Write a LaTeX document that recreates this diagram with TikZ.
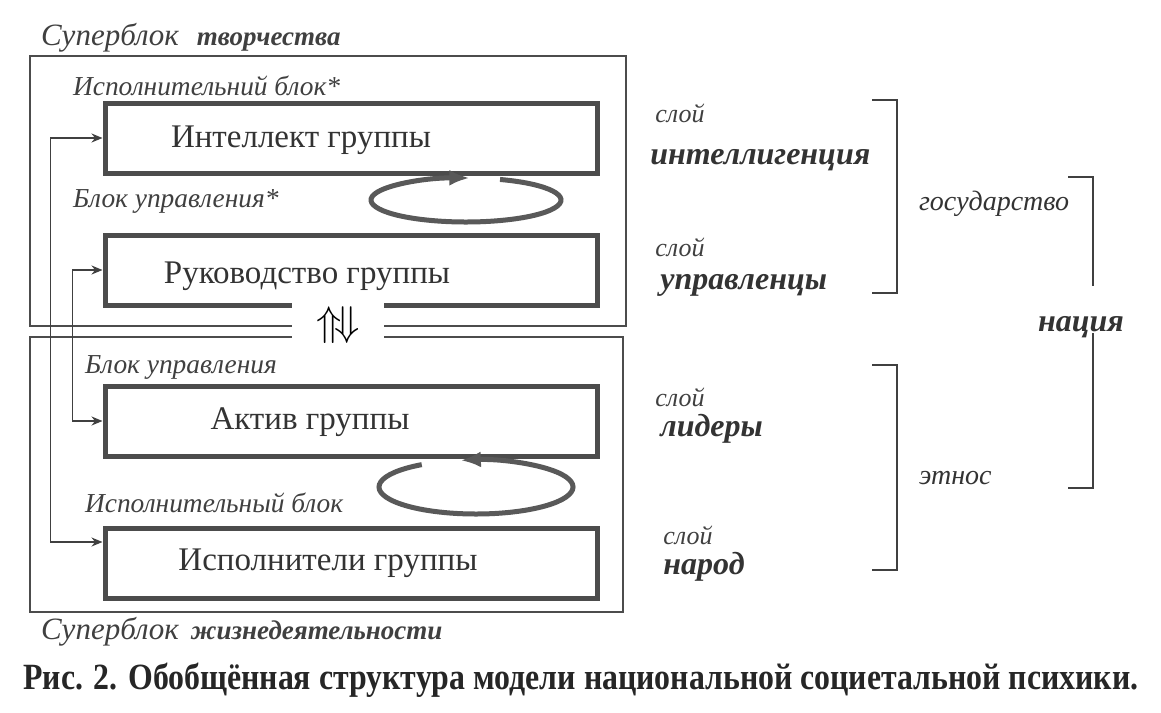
\documentclass[tikz,border=0pt]{standalone}
\usepackage{fontspec}
\setmainfont{Liberation Serif}
\newfontfamily\capfont[FakeStretch=0.86]{Liberation Serif}
\usepackage{tikz}
\usetikzlibrary{arrows.meta}

\begin{document}
\begin{tikzpicture}[x=0.5pt,y=-0.5pt,>=Stealth,
  grpbox/.style={draw=black!70,line width=2.5pt,minimum width=246pt,minimum height=35pt,inner sep=0pt},
  grptext/.style={text=black!80,font=\fontsize{16.5}{18}\selectfont},
  blklabel/.style={anchor=west,text=black!75,font=\fontsize{13.7}{16}\selectfont\itshape},
  supname/.style={anchor=west,text=black!75,font=\fontsize{15.5}{18}\selectfont\itshape},
  sbox/.style={draw=black!70,line width=0.8pt},
  slay/.style={anchor=west,inner sep=1pt,text=black!75,font=\fontsize{13}{15}\selectfont\itshape},
  layname/.style={anchor=west,inner sep=1pt,text=black!80,font=\fontsize{16}{18}\selectfont\bfseries\itshape},
  unite/.style={anchor=west,text=black!80,font=\fontsize{14}{16}\selectfont\itshape},
  brack/.style={draw=black!75,line width=1pt},
  link/.style={<->,draw=black!75,line width=0.8pt,>={Stealth[length=5.5pt,width=4.5pt]}},
  loop/.style={draw=black!65,line width=2.5pt,-{Latex[length=10pt,width=8pt]}}]
  \fill[white] (0,0) rectangle (1161,712);
  \useasboundingbox (0,0) rectangle (1161,712);
  \draw[sbox] (30,56) rectangle (626,326);
  \draw[sbox] (30,337) rectangle (623,612);
  \node[supname] (sbup) at (34,38) {Суперблок\hspace{9pt}{\fontsize{13.5}{16}\selectfont\bfseries творчества}};
  \node[supname] (sbdown) at (34,632) {Суперблок\hspace{6pt}{\fontsize{13.5}{16}\selectfont\bfseries жизнедеятельности}};
  \node[blklabel] (lbint) at (66,86) {Исполнительний блок*};
  \node[blklabel] (lbruk) at (66,201) {Блок управления*};
  \node[blklabel] (lbakt) at (78,367) {Блок управления};
  \node[blklabel] (lbisp) at (78,503) {Исполнительный блок};
  \node[grpbox] (intel) at (351,138) {};
  \node[grpbox] (rukov) at (351,270) {};
  \node[grpbox] (aktiv) at (351,421) {};
  \node[grpbox] (ispoln) at (351,563) {};
  \node[grptext] (intelt) at (301,140) {Интеллект группы};
  \node[grptext] (rukovt) at (307,276) {Руководство группы};
  \node[grptext] (aktivt) at (310,422) {Актив группы};
  \node[grptext] (ispolnt) at (328,563) {Исполнители группы};
  \node[fill=white,minimum width=46pt,minimum height=24pt,inner sep=0pt] (swap) at (338,325)
    {\fontsize{22}{24}\selectfont$\Uparrow\!\Downarrow$};
  \coordinate (loopup) at (466,200);
  \coordinate (loopdown) at (476,487);
  \draw[loop] (loopup) ++(69:47.5pt and 11pt) arc[start angle=69,end angle=-272,x radius=47.5pt,y radius=11pt];
  \draw[loop] (loopdown) ++(124:48.5pt and 13.5pt) arc[start angle=124,end angle=459,x radius=48.5pt,y radius=13.5pt];
  \draw[link] (intel.west) -- ++(-52,0) |- ([yshift=10.5pt]ispoln.west);
  \draw[link] (rukov.west) -- ++(-30,0) |- (aktiv.west);
  \node[slay] (sl1) at (653,113) {слой};
  \node[layname] (intl) at (648,160) {интеллигенция};
  \node[slay] (sl2) at (653,247) {слой};
  \node[layname] (uprav) at (658,285) {управленцы};
  \node[slay] (sl3) at (653,397) {слой};
  \node[layname] (lider) at (658,429) {лидеры};
  \node[slay] (sl4) at (661,535) {слой};
  \node[layname] (narod) at (661,567) {народ};
  \draw[brack] (872,100) -| (897,293) -- (872,293);
  \draw[brack] (872,365) -| (897,570) -- (872,570);
  \node[unite] (gos) at (912,204) {государство};
  \node[unite] (etnos) at (912,478) {этнос};
  \draw[brack] (1068,177) -| (1093,286);
  \draw[brack] (1093,333) |- (1068,488);
  \node[layname,anchor=center] (nacia) at (1081,327) {нация};
  \node[text=black!85,font=\fontsize{18.5}{20}\capfont\bfseries] (capt) at (581,680)
    {Рис. 2. Обобщённая структура модели национальной социетальной психики.};
\end{tikzpicture}
\end{document}
